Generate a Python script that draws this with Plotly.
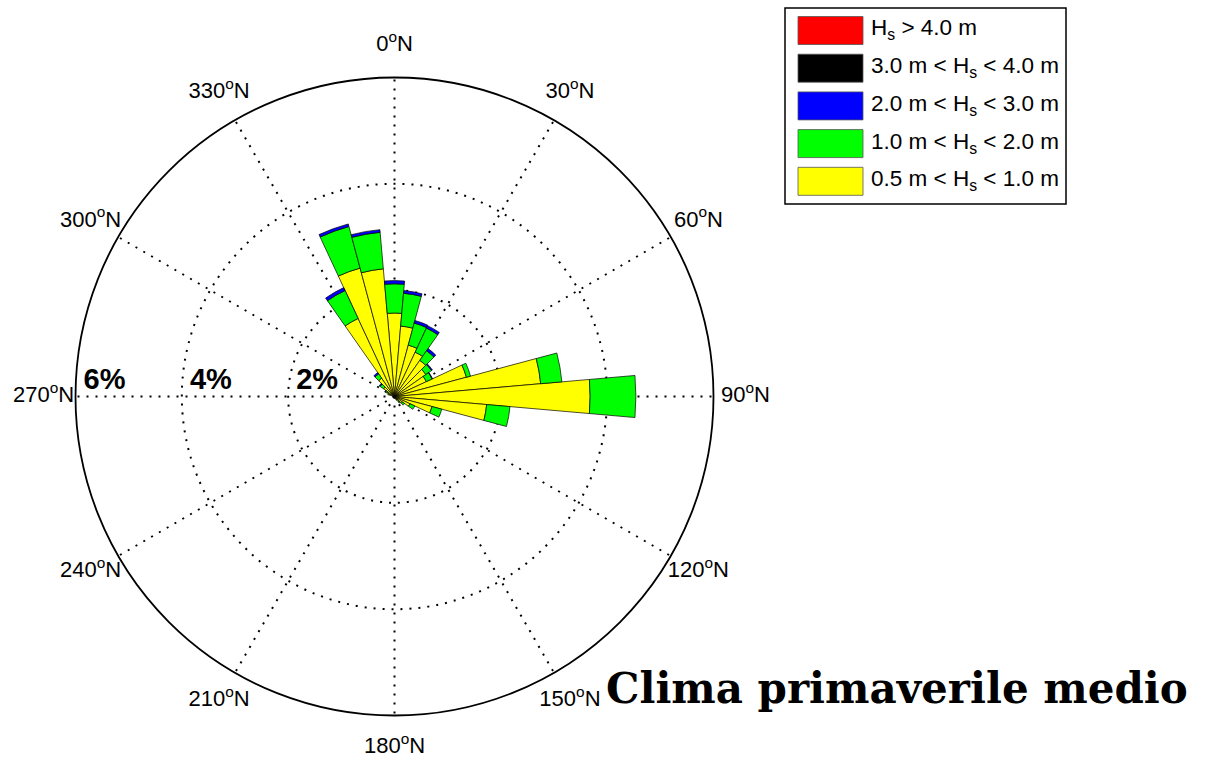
import plotly.graph_objects as go

# Direction bins (degrees from north, clockwise), 10-degree sectors
directions = list(range(0, 360, 10))

# Frequency (%) contributed by each wave-height class, per direction bin
freq_05_10 = [1.57, 1.33, 1.00, 0.92, 0.83, 0.72, 0.66, 1.40, 2.76, 3.68, 1.74, 0.73,
              0.32, 0.18, 0.12, 0.06, 0.02, 0.00, 0.00, 0.00, 0.00, 0.00, 0.00, 0.00,
              0.00, 0.00, 0.00, 0.00, 0.02, 0.10, 0.15, 0.25, 0.42, 1.62, 2.50, 2.41]
freq_10_20 = [0.55, 0.62, 0.43, 0.50, 0.22, 0.13, 0.12, 0.08, 0.40, 0.86, 0.44, 0.19,
              0.10, 0.05, 0.03, 0.02, 0.00, 0.00, 0.00, 0.00, 0.00, 0.00, 0.00, 0.00,
              0.00, 0.00, 0.00, 0.00, 0.00, 0.03, 0.04, 0.08, 0.10, 0.58, 0.81, 0.69]
freq_20_30 = [0.06, 0.05, 0.05, 0.05, 0.05, 0.02, 0.01, 0.00, 0.00, 0.00, 0.00, 0.00,
              0.00, 0.00, 0.00, 0.00, 0.00, 0.00, 0.00, 0.00, 0.00, 0.00, 0.00, 0.00,
              0.00, 0.00, 0.00, 0.00, 0.00, 0.00, 0.01, 0.02, 0.03, 0.06, 0.05, 0.05]
freq_30_40 = [0.0] * 36
freq_gt_40 = [0.0] * 36

class_values = [freq_05_10, freq_10_20, freq_20_30, freq_30_40, freq_gt_40]
class_colors = ["#ffff00", "#00ff00", "#0000ff", "#000000", "#ff0000"]
class_labels = [
    "0.5 m &lt; H<sub>s</sub> &lt; 1.0 m",
    "1.0 m &lt; H<sub>s</sub> &lt; 2.0 m",
    "2.0 m &lt; H<sub>s</sub> &lt; 3.0 m",
    "3.0 m &lt; H<sub>s</sub> &lt; 4.0 m",
    "H<sub>s</sub> &gt; 4.0 m",
]

# Compass ticks and radial rings
compass_ticks = list(range(0, 360, 30))
compass_labels = [f"{t}<sup>o</sup>N" for t in compass_ticks]
ring_values = [2, 4, 6]
ring_labels = ["\u00a02%", "\u00a04%", "\u00a06%"]
r_max = 6
label_r = r_max * 1.1      # compass labels sit 10% beyond the rim
outer_r = 6.7              # range of the overlay polar that carries the labels

W, H = 1207, 765
cx, cy, rad = 394.5, 396.5, 319.0   # polar centre and radius in pixels
rad2 = rad * outer_r / r_max        # same scale on the overlay polar

sans = "Liberation Sans, Arial, sans-serif"
dotted = "2px,7px"

fig = go.Figure()

for vals, col, lab in zip(class_values, class_colors, class_labels):
    fig.add_trace(go.Barpolar(
        r=vals, theta=directions, width=10,
        marker=dict(color=col, line=dict(color="black", width=0.7)),
        name=lab, showlegend=False, hoverinfo="skip",
    ))

# Ring labels along the west spoke
fig.add_trace(go.Scatterpolar(
    r=ring_values, theta=[270] * len(ring_values),
    mode="text", text=ring_labels, textposition="top right", cliponaxis=False,
    textfont=dict(family=sans, size=29, color="black", weight="bold"),
    showlegend=False, hoverinfo="skip",
))

# Compass labels, on an overlay polar with the same scale
fig.add_trace(go.Scatterpolar(
    r=[label_r] * len(compass_ticks), theta=compass_ticks, subplot="polar2",
    mode="text", text=compass_labels, cliponaxis=False,
    textfont=dict(family=sans, size=22, color="black"),
    showlegend=False, hoverinfo="skip",
))

hidden_axis = dict(showgrid=False, showline=False, showticklabels=False, ticks="")

fig.update_layout(
    width=W, height=H,
    margin=dict(l=0, r=0, t=0, b=0),
    paper_bgcolor="white",
    showlegend=False,
    polar=dict(
        domain=dict(x=[(cx - rad) / W, (cx + rad) / W],
                    y=[(H - cy - rad) / H, (H - cy + rad) / H]),
        bgcolor="white",
        barmode="stack",
        angularaxis=dict(
            rotation=90, direction="clockwise",
            tickmode="array", tickvals=compass_ticks, showticklabels=False, ticks="",
            showgrid=True, gridcolor="black", gridwidth=1.6, griddash=dotted,
            showline=True, linecolor="black", linewidth=1.8,
        ),
        radialaxis=dict(
            range=[0, r_max], tickmode="array", tickvals=ring_values[:-1],
            showticklabels=False, ticks="", showline=False,
            showgrid=True, gridcolor="black", gridwidth=1.6, griddash=dotted,
        ),
    ),
    polar2=dict(
        domain=dict(x=[(cx - rad2) / W, (cx + rad2) / W],
                    y=[(H - cy - rad2) / H, (H - cy + rad2) / H]),
        bgcolor="rgba(0,0,0,0)",
        angularaxis=dict(rotation=90, direction="clockwise", **hidden_axis),
        radialaxis=dict(range=[0, outer_r], **hidden_axis),
    ),
)

# Legend box drawn with swatches (top entry = largest waves)
box_x0, box_x1, box_y0, box_y1 = 785, 1066, 8, 204
fig.add_shape(type="rect", xref="paper", yref="paper",
              x0=box_x0 / W, x1=box_x1 / W, y0=1 - box_y1 / H, y1=1 - box_y0 / H,
              line=dict(color="black", width=1.5), fillcolor="white", layer="above")
row_y0, row_step, sw_h = 30.5, 37.7, 28
sw_x0, sw_x1, txt_x = 798, 863, 869
for i, (col, lab) in enumerate(zip(class_colors[::-1], class_labels[::-1])):
    yc = row_y0 + i * row_step
    fig.add_shape(type="rect", xref="paper", yref="paper",
                  x0=sw_x0 / W, x1=sw_x1 / W,
                  y0=1 - (yc + sw_h / 2) / H, y1=1 - (yc - sw_h / 2) / H,
                  line=dict(color="#555555", width=0.8), fillcolor=col, layer="above")
    fig.add_annotation(xref="paper", yref="paper", x=txt_x / W, y=1 - (yc - 1) / H,
                       xanchor="left", yanchor="middle", showarrow=False, text=lab,
                       font=dict(family=sans, size=22.5, color="black"))

fig.add_annotation(xref="paper", yref="paper", x=1190 / W, y=1 - 688 / H,
                   xanchor="right", yanchor="middle", showarrow=False,
                   text="<b>Clima primaverile medio</b>",
                   font=dict(family="DejaVu Serif, serif", size=42, color="black"))

fig.write_html("out.html")
